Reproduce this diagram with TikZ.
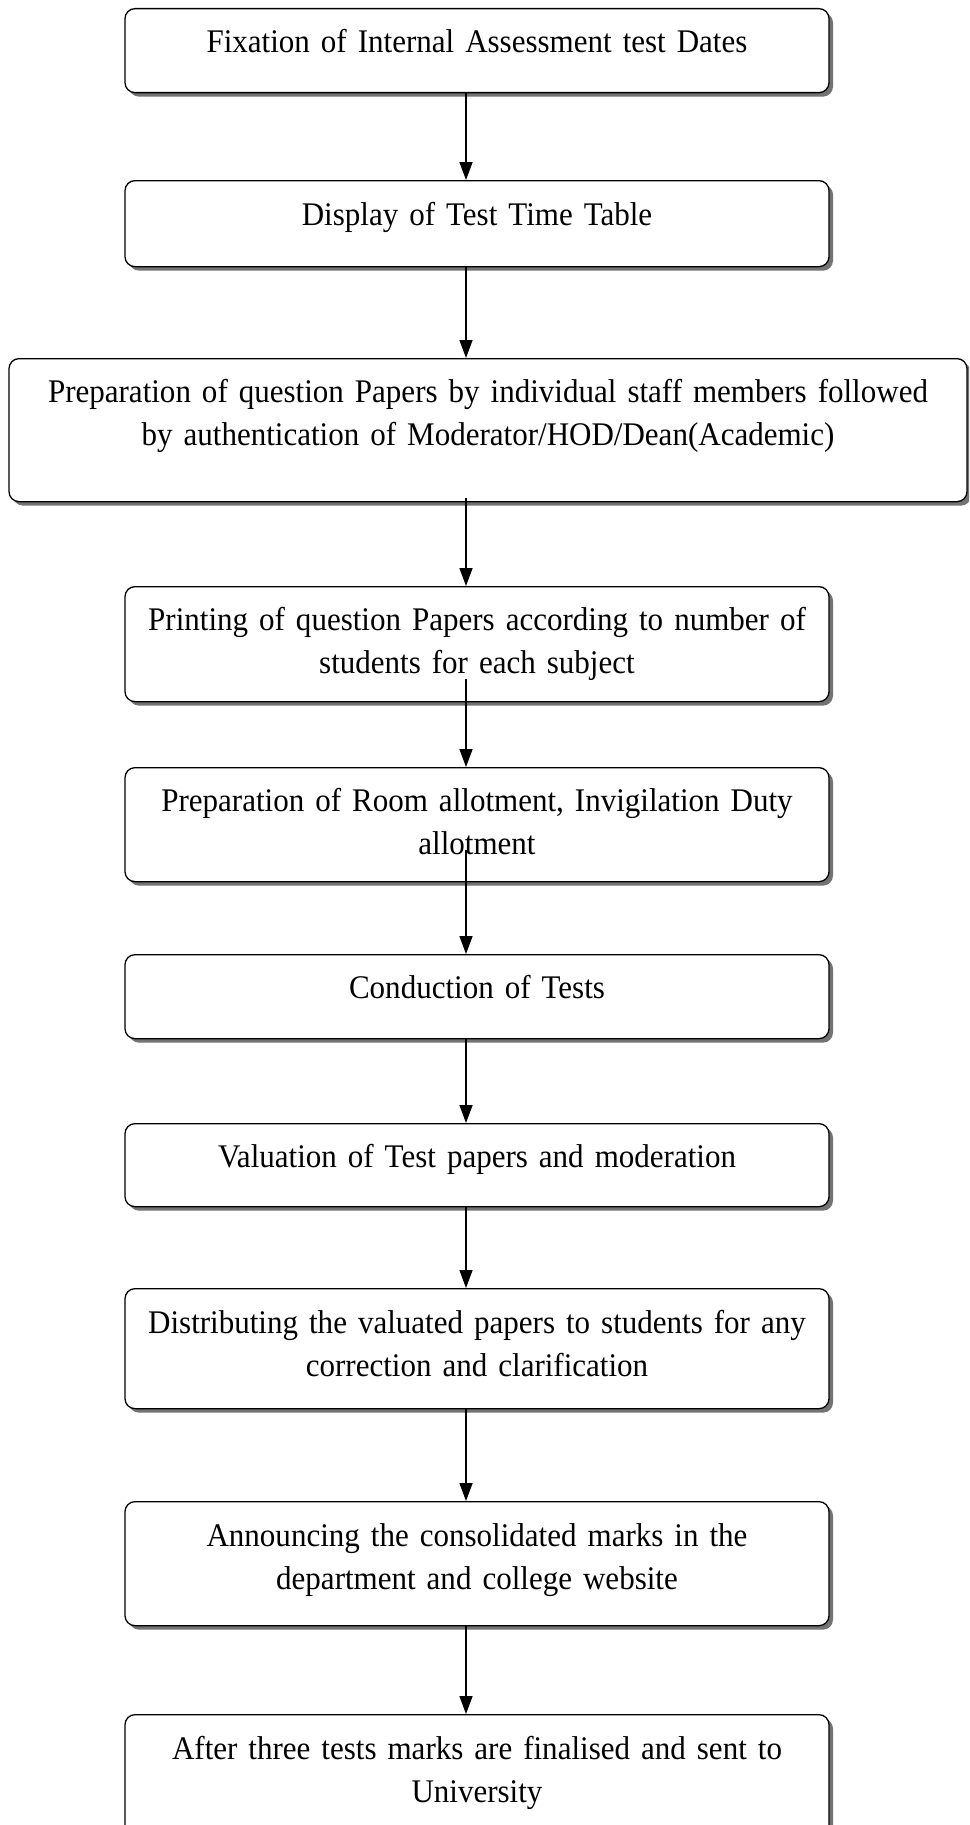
\documentclass[tikz,border=0pt]{standalone}
\usepackage{fontspec}
\setmainfont{Liberation Serif}[FakeStretch=0.94]
\usetikzlibrary{shadows,arrows.meta}
\begin{document}
\begin{tikzpicture}[x=1pt,y=-1pt,
  flowbox/.style={draw=black, line width=1.3pt, rounded corners=10pt, fill=white,
    drop shadow={shadow xshift=4pt, shadow yshift=-4pt, fill=black!55, opacity=1},
    inner sep=0pt, anchor=north, minimum width=704pt},
  boxtext/.style={anchor=base, align=center, inner sep=0pt, text width=700pt,
    font=\fontsize{33}{43}\selectfont},
  arr/.style={line width=1.5pt, -{Triangle[length=18pt,width=13pt]}}]
\useasboundingbox (0,0) rectangle (969,1825);
\clip (0,0) rectangle (969,1825);
\coordinate (ax) at (466,0);
% boxes
\node[flowbox, minimum height=84pt] (b1) at (477,8) {};
\node[boxtext] (t1) at (477,53) {Fixation of Internal Assessment test Dates};
\node[flowbox, minimum height=86pt] (b2) at (477,180) {};
\node[boxtext] (t2) at (477,225) {Display of Test Time Table};
\node[flowbox, minimum height=143pt, minimum width=958pt] (b3) at (488,358) {};
\node[boxtext, text width=950pt] (t3) at (488,402) {Preparation of question Papers by individual staff members followed\\by authentication of Moderator/HOD/Dean(Academic)};
\node[flowbox, minimum height=115pt] (b4) at (477,586) {};
\node[boxtext] (t4) at (477,630) {Printing of question Papers according to number of\\students for each subject};
\node[flowbox, minimum height=114pt] (b5) at (477,767) {};
\node[boxtext] (t5) at (477,811) {Preparation of Room allotment, Invigilation Duty\\allotment};
\node[flowbox, minimum height=84pt] (b6) at (477,954) {};
\node[boxtext] (t6) at (477,998) {Conduction of Tests};
\node[flowbox, minimum height=83pt] (b7) at (477,1123) {};
\node[boxtext] (t7) at (477,1167) {Valuation of Test papers and moderation};
\node[flowbox, minimum height=120pt] (b8) at (477,1288) {};
\node[boxtext] (t8) at (477,1333) {Distributing the valuated papers to students for any\\correction and clarification};
\node[flowbox, minimum height=124pt] (b9) at (477,1501) {};
\node[boxtext] (t9) at (477,1546) {Announcing the consolidated marks in the\\department and college website};
\node[flowbox, minimum height=140pt] (b10) at (477,1714) {};
\node[boxtext] (t10) at (477,1759) {After three tests marks are finalised and sent to\\University};
% arrows
\draw[arr] (b1.south -| ax) -- (b2.north -| ax);
\draw[arr] (b2.south -| ax) -- (b3.north -| ax);
\draw[arr] ([yshift=4pt]b3.south -| ax) -- (b4.north -| ax);
\draw[arr] ([yshift=23pt]b4.south -| ax) -- (b5.north -| ax);
\draw[arr] ([yshift=32pt]b5.south -| ax) -- (b6.north -| ax);
\draw[arr] (b6.south -| ax) -- (b7.north -| ax);
\draw[arr] (b7.south -| ax) -- (b8.north -| ax);
\draw[arr] (b8.south -| ax) -- (b9.north -| ax);
\draw[arr] (b9.south -| ax) -- (b10.north -| ax);
\end{tikzpicture}
\end{document}
